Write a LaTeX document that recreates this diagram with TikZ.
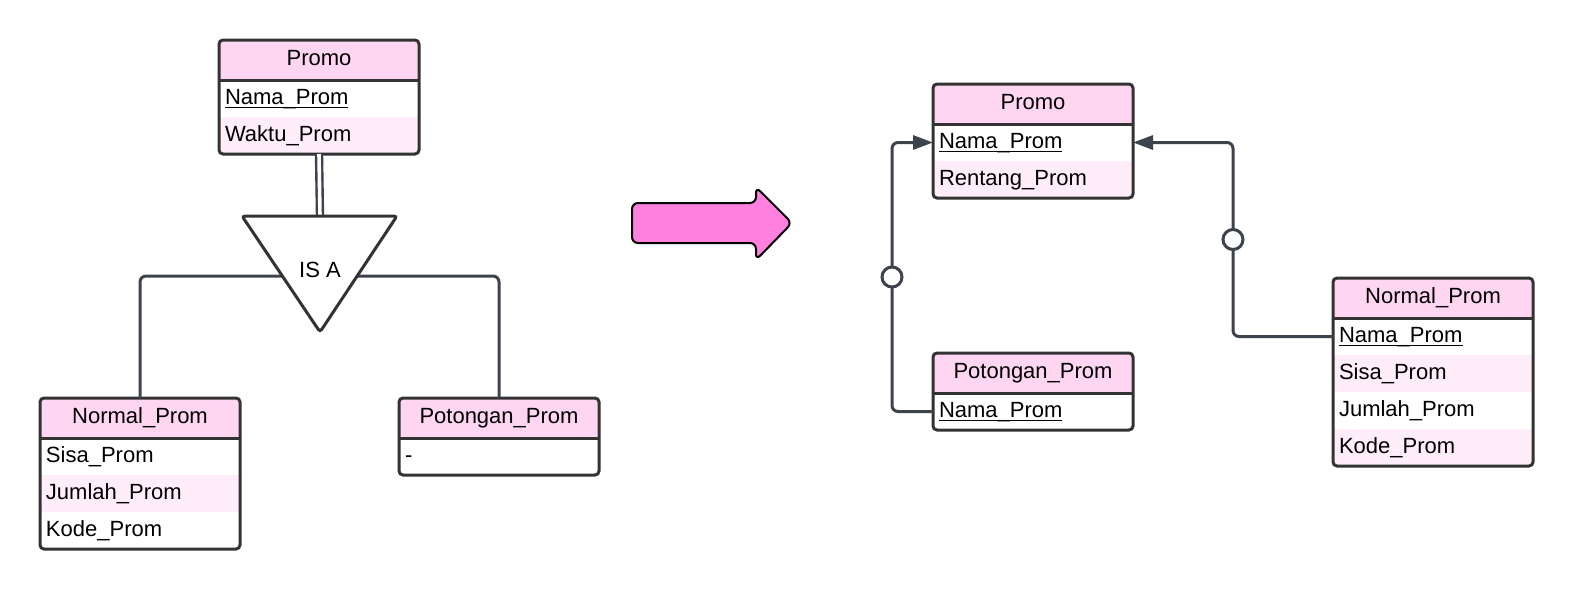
\documentclass[tikz,border=0pt]{standalone}
\usepackage{fontspec}
\setmainfont{Liberation Sans}
\usepackage{tikz}
\usetikzlibrary{arrows.meta, positioning, calc}

\definecolor{hdpink}{RGB}{255,214,242}
\definecolor{rowpink}{RGB}{255,238,250}
\definecolor{edgegray}{RGB}{51,51,51}
\definecolor{linegray}{RGB}{61,67,76}
\definecolor{bigpink}{RGB}{255,128,223}

% key attribute, underlined close to the baseline
\newcommand{\keyattr}[1]{\setbox0\hbox{#1}\rlap{\rule[-1.9pt]{\wd0}{0.65pt}}\box0}

\tikzset{
  cell/.style={anchor=north west, inner xsep=3pt, inner ysep=0pt, outer sep=0pt,
    text width=94pt, text height=8pt, text depth=2.5pt, minimum height=18.5pt,
    font=\fontsize{11pt}{13pt}\selectfont},
  hd/.style={cell, fill=hdpink, align=center, minimum height=20pt},
  rw/.style={cell, align=left},
  rwp/.style={rw, fill=rowpink},
  box/.style={draw=edgegray, line width=1.5pt, rounded corners=2pt},
  sep/.style={draw=edgegray, line width=1.5pt},
  conn/.style={draw=linegray, line width=1.5pt, rounded corners=3pt},
  opt/.style={circle, draw=linegray, fill=white, line width=1.5pt, minimum size=10pt, inner sep=0pt},
}

\begin{document}
\begin{tikzpicture}[x=0.5pt, y=-0.5pt]
  \useasboundingbox (0,0) rectangle (1573,590);

  % left: Promo with IS A
  \node[hd] (lpr) at (219,40) {Promo};
  \node[rw] (lpr1) at (lpr.south west) {\keyattr{Nama\_Prom}};
  \node[rwp] (lpr2) at (lpr1.south west) {Waktu\_Prom};
  \draw[box] (lpr.north west) rectangle (lpr2.south east);
  \draw[sep] (lpr.south west) -- (lpr.south east);

  % left: Normal_Prom
  \node[hd] (lnm) at (40,398) {Normal\_Prom};
  \node[rw] (lnm1) at (lnm.south west) {Sisa\_Prom};
  \node[rwp] (lnm2) at (lnm1.south west) {Jumlah\_Prom};
  \node[rw] (lnm3) at (lnm2.south west) {Kode\_Prom};
  \draw[box] (lnm.north west) rectangle (lnm3.south east);
  \draw[sep] (lnm.south west) -- (lnm.south east);

  % left: Potongan_Prom
  \node[hd] (lpt) at (399,398) {Potongan\_Prom};
  \node[rw] (lpt1) at (lpt.south west) {-};
  \draw[box] (lpt.north west) rectangle (lpt1.south east);
  \draw[sep] (lpt.south west) -- (lpt.south east);

  % IS A triangle, lines first
  \coordinate (tri) at (320,276);
  \coordinate (tritop) at (320,216);
  \draw[conn] (tri) -| (lnm.north);
  \draw[conn] (tri) -| (lpt.north);
  \draw[draw=linegray, double=white, line width=1.2pt, double distance=1.8pt] (lpr2.south) -- (tritop);
  \filldraw[fill=white, draw=edgegray, line width=1.5pt, rounded corners=1.5pt]
    (242,216) -- (397,216) -- (320,332) -- cycle;
  \node[font=\fontsize{11pt}{13pt}\selectfont] (isa) at (320,270) {IS A};

  % big arrow
  \filldraw[fill=bigpink, draw=black, line width=1pt, rounded corners=3pt]
    (632,203) -- (756,203) -- (756,187) -- (792,223) -- (756,260) -- (756,243) -- (632,243) -- cycle;

  % right: Promo
  \node[hd] (rpr) at (933,84) {Promo};
  \node[rw] (rpr1) at (rpr.south west) {\keyattr{Nama\_Prom}};
  \node[rwp] (rpr2) at (rpr1.south west) {Rentang\_Prom};
  \draw[box] (rpr.north west) rectangle (rpr2.south east);
  \draw[sep] (rpr.south west) -- (rpr.south east);

  % right: Potongan_Prom
  \node[hd] (rpt) at (933,353) {Potongan\_Prom};
  \node[rw] (rpt1) at (rpt.south west) {\keyattr{Nama\_Prom}};
  \draw[box] (rpt.north west) rectangle (rpt1.south east);
  \draw[sep] (rpt.south west) -- (rpt.south east);

  % right: Normal_Prom
  \node[hd] (rnm) at (1333,278) {Normal\_Prom};
  \node[rw] (rnm1) at (rnm.south west) {\keyattr{Nama\_Prom}};
  \node[rwp] (rnm2) at (rnm1.south west) {Sisa\_Prom};
  \node[rw] (rnm3) at (rnm2.south west) {Jumlah\_Prom};
  \node[rwp] (rnm4) at (rnm3.south west) {Kode\_Prom};
  \draw[box] (rnm.north west) rectangle (rnm4.south east);
  \draw[sep] (rnm.south west) -- (rnm.south east);

  % connectors to Promo
  \draw[conn, -{Triangle[length=10pt, width=7pt]}] (rpt1.west) -- ++(-41,0)
    |- node[opt, pos=0.25] (o1) {} (rpr1.west);
  \draw[conn, -{Triangle[length=10pt, width=7pt]}] (rnm1.west) -- ++(-100,0)
    |- node[opt, pos=0.25] (o2) {} (rpr1.east);
\end{tikzpicture}
\end{document}
